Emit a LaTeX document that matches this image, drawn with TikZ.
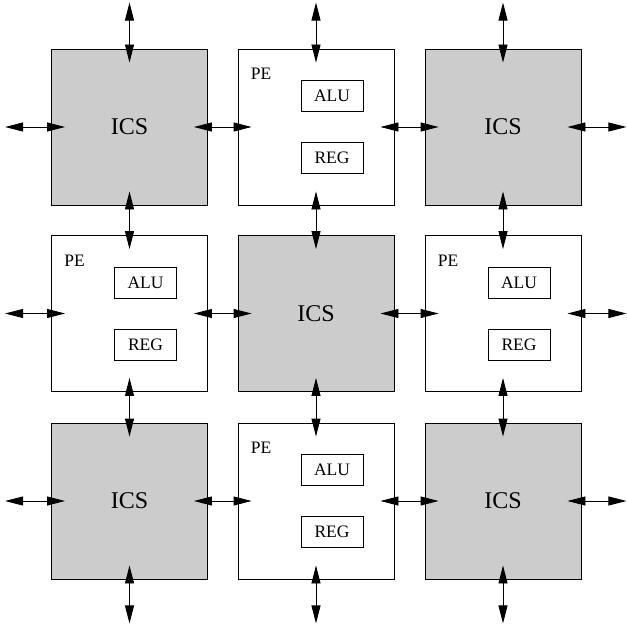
\documentclass[tikz,border=0pt]{standalone}
\usepackage{fontspec}
\setmainfont{Liberation Serif}
\usetikzlibrary{arrows.meta}
\definecolor{icsgray}{RGB}{204,204,204}
\begin{document}
\begin{tikzpicture}[x=1pt,y=-1pt,
  icsbox/.style={draw=black,line width=0.9pt,fill=icsgray,minimum width=156pt,minimum height=156pt,inner sep=0pt,font=\fontsize{24}{28}\selectfont},
  pebox/.style={draw=black,line width=0.9pt,fill=white,minimum width=156pt,minimum height=156pt,inner sep=0pt},
  unitbox/.style={draw=black,line width=0.9pt,minimum width=62pt,minimum height=31pt,inner sep=0pt,font=\fontsize{17.5}{20}\selectfont},
  pelabel/.style={inner sep=0pt,font=\fontsize{17.5}{20}\selectfont},
  link/.style={line width=0.9pt,{Triangle[length=18pt,width=9pt]}-{Triangle[length=18pt,width=9pt]}}
]
\useasboundingbox (0,0) rectangle (626,631);
% boxes
\node[icsbox] (i11) at (129.5,127) {ICS};
\node[pebox]  (p12) at (316,127) {};
\node[icsbox] (i13) at (503,127) {ICS};
\node[pebox]  (p21) at (129.5,313.5) {};
\node[icsbox] (i22) at (316,313.5) {ICS};
\node[pebox]  (p23) at (503,313.5) {};
\node[icsbox] (i31) at (129.5,501) {ICS};
\node[pebox]  (p32) at (316,501) {};
\node[icsbox] (i33) at (503,501) {ICS};
% PE contents
\foreach \p in {p12,p21,p23,p32}{
  \node[pelabel] (\p-pe) at ([xshift=-55pt,yshift=53pt]\p.center) {PE};
  \node[unitbox] (\p-alu) at ([xshift=16pt,yshift=31pt]\p.center) {ALU};
  \node[unitbox] (\p-reg) at ([xshift=16pt,yshift=-31pt]\p.center) {REG};
}
% outer free ends
\foreach \b in {i11,p12,i13}{
  \coordinate (\b-top) at ([yshift=46pt]\b.north);
  \draw[link] (\b-top) -- ([yshift=-14pt]\b.north);
}
\foreach \b in {i31,p32,i33}{
  \coordinate (\b-bot) at ([yshift=-44pt]\b.south);
  \draw[link] ([yshift=14pt]\b.south) -- (\b-bot);
}
\foreach \b in {i11,p21,i31}{
  \coordinate (\b-lft) at ([xshift=-46pt]\b.west);
  \draw[link] (\b-lft) -- ([xshift=14pt]\b.west);
}
\foreach \b in {i13,p23,i33}{
  \coordinate (\b-rgt) at ([xshift=45pt]\b.east);
  \draw[link] ([xshift=-14pt]\b.east) -- (\b-rgt);
}
% horizontal links
\foreach \a/\b in {i11/p12,p12/i13,p21/i22,i22/p23,i31/p32,p32/i33}{
  \draw[link] ([xshift=-14pt]\a.east) -- ([xshift=14pt]\b.west);
}
% vertical links
\foreach \a/\b in {i11/p21,p21/i31,p12/i22,i22/p32,i13/p23,p23/i33}{
  \draw[link] ([yshift=14pt]\a.south) -- ([yshift=-14pt]\b.north);
}
\end{tikzpicture}
\end{document}
